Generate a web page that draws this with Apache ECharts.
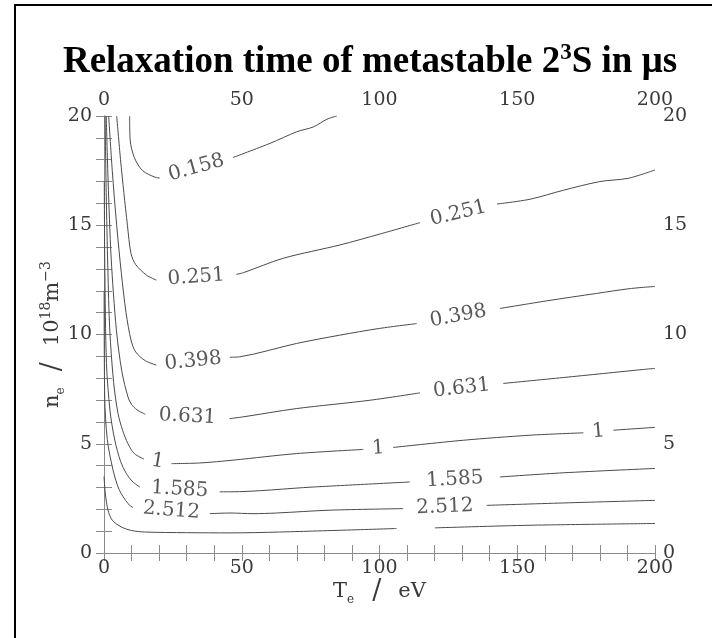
<!DOCTYPE html>
<html>
<head>
<meta charset="utf-8">
<script src="https://cdn.jsdelivr.net/npm/echarts@6/dist/echarts.min.js"></script>
<style>
  html, body { margin: 0; padding: 0; background: #fff; }
  #chart { width: 712px; height: 638px; }
</style>
</head>
<body>
<div id="chart"></div>
<script>
// contour levels (relaxation time in µs); '' = line without a label
const levels = ["0.158", "0.251", "0.398", "0.631", "1", "1.585", "2.512", ""];

// each contour: list of segments [T_e (eV), n_e (1e18 m^-3)]; labels sit in the gaps
const c0158 = [
  [[9.3, 20], [9.5, 18.9], [11, 18.1], [14, 17.5], [18.5, 17.2], [20.2, 17.16]],
  [[46.8, 18.1], [60.3, 18.75], [70, 19.28], [76, 19.5], [80.9, 19.85], [84.5, 20]]
];
const c0251 = [
  [[4.6, 20], [6, 18], [7.2, 16.5], [8.5, 15], [9.8, 13.7], [11.5, 13.2], [15.4, 12.72], [19, 12.49]],
  [[48, 12.75], [50.6, 12.83], [65.1, 13.49], [85.7, 14.1], [100.2, 14.6], [114.7, 15.12]],
  [[142.6, 15.97], [154.6, 16.19], [166.7, 16.6], [180, 17.0], [190.3, 17.15], [200, 17.53]]
];
const c0398 = [
  [[1.7, 20], [3, 17.5], [4.6, 15], [6.3, 12.8], [8, 11], [9.8, 9.75], [11.5, 9.2], [15, 8.8], [19, 8.6]],
  [[45.7, 8.96], [49.3, 8.98], [69.9, 9.59], [85.6, 9.97], [100.1, 10.28], [113.5, 10.5]],
  [[143.7, 11.19], [160.7, 11.54], [178.8, 11.88], [190.9, 12.1], [200, 12.2]]
];
const c0631 = [
  [[0.8, 20], [1.5, 17], [2.6, 13.5], [4.5, 10.2], [6.5, 8.3], [8.7, 7.14], [10, 6.8], [12, 6.55], [15, 6.35]],
  [[45.6, 6.15], [50.5, 6.23], [69.9, 6.61], [96.5, 6.99], [114.7, 7.33]],
  [[144.9, 7.76], [166.7, 8.03], [195.8, 8.4], [200, 8.45]]
];
const c1 = [
  [[0.4, 20], [0.8, 16.5], [1.4, 13], [2.1, 10.2], [3.5, 7.8], [5.1, 6.38], [6.8, 5.6], [8.7, 5.0], [11, 4.55], [14.5, 4.3]],
  [[24.5, 4.09], [34.8, 4.12], [46.9, 4.25], [69.9, 4.55], [94.1, 4.74]],
  [[105, 4.83], [130.4, 5.16], [154.6, 5.39], [174, 5.5]],
  [[184.9, 5.62], [200, 5.75]]
];
const c1585 = [
  [[0.1, 17], [0.3, 13], [0.9, 8.67], [2.2, 6.5], [3.9, 5.17], [6, 4.2], [8.1, 3.64], [10.5, 3.25], [13, 3.02]],
  [[42, 2.8], [45.7, 2.8], [75.9, 3.02], [111, 3.25]],
  [[143.7, 3.48], [166.7, 3.67], [200, 3.87]]
];
const c2512 = [
  [[0.05, 12], [0.25, 7.14], [1.2, 5.2], [3.3, 3.79], [5.5, 2.9], [8.7, 2.26], [10.5, 2.08]],
  [[38.4, 1.8], [45.7, 1.83], [54.1, 1.8], [62.6, 1.83], [82, 1.96], [108.6, 2.03]],
  [[138.9, 2.18], [166.7, 2.29], [200, 2.41]]
];
const c3981 = [
  [[0, 3.5], [0.5, 2.7], [1.45, 1.96], [3, 1.5], [6.3, 1.19], [10, 1.03], [14.8, 0.96], [30, 0.93], [45.7, 0.92], [63.8, 0.96], [106.2, 1.12]],
  [[120.1, 1.15], [154.6, 1.27], [200, 1.35]]
];
const contours = [c0158, c0251, c0398, c0631, c1, c1585, c2512, c3981];

// axis ranges: a tick every xStep / yStep, a number every xLabelEvery / yLabelEvery
const xRange = [0, 200];
const yRange = [0, 20];
const xStep = 10, xLabelEvery = 50;
const yStep = 1, yLabelEvery = 5;

const serif = "DejaVu Serif";
const axisGray = "#8a8a8a";
const textGray = "#3a3a3a";

const chart = echarts.init(document.getElementById("chart"));

// join segments with null so the line breaks where the label goes
const lineData = (segs) => {
  const out = [];
  segs.forEach((s, i) => {
    if (i > 0) out.push(null);
    s.forEach((p) => out.push(p));
  });
  return out;
};

const axisCommon = {
  type: "value",
  axisLine: { show: true, lineStyle: { color: axisGray, width: 1 } },
  axisTick: { show: true, inside: true, length: 8, lineStyle: { color: axisGray } },
  splitLine: { show: false },
  nameMoveOverlap: false,
};
const labelStyle = { fontFamily: serif, fontSize: 19, color: textGray, showMinLabel: true, showMaxLabel: true };

const xAxisOpt = (pos) => ({
  ...axisCommon,
  position: pos,
  min: xRange[0],
  max: xRange[1],
  interval: xStep,
  axisLabel: {
    ...labelStyle,
    margin: 6,
    formatter: (v) => (v % xLabelEvery === 0 ? String(v) : ""),
  },
});
const yAxisOpt = (pos) => ({
  ...axisCommon,
  position: pos,
  min: yRange[0],
  max: yRange[1],
  interval: yStep,
  axisLabel: {
    ...labelStyle,
    margin: pos === "left" ? 12 : 8,
    formatter: (v) => (v % yLabelEvery === 0 ? String(v) : ""),
  },
});

const xAxes = [xAxisOpt("bottom"), xAxisOpt("top")];
xAxes[0].name = "{a|T}{s|e}{sl|/}{a|eV}";
xAxes[0].nameLocation = "middle";
xAxes[0].nameGap = 25;
xAxes[0].nameTextStyle = {
  rich: {
    a: { fontFamily: serif, fontSize: 21, color: textGray, lineHeight: 28, verticalAlign: "middle" },
    s: { fontFamily: serif, fontSize: 12, color: textGray, lineHeight: 11, verticalAlign: "bottom" },
    sl: { fontFamily: serif, fontSize: 27, color: textGray, lineHeight: 28, verticalAlign: "middle", padding: [0, 17, 0, 18] },
  },
};

const yAxes = [yAxisOpt("left"), yAxisOpt("right")];
yAxes[0].name = "{a|n}{s|e}{sl|/}{a|10}{p|18}{a|m}{p|−3}";
yAxes[0].nameLocation = "middle";
yAxes[0].nameGap = 37;
yAxes[0].nameTextStyle = {
  rich: {
    a: { fontFamily: serif, fontSize: 21, color: textGray, lineHeight: 28, verticalAlign: "middle" },
    s: { fontFamily: serif, fontSize: 12, color: textGray, lineHeight: 11, verticalAlign: "bottom" },
    p: { fontFamily: serif, fontSize: 14, color: textGray, lineHeight: 13, verticalAlign: "top" },
    sl: { fontFamily: serif, fontSize: 27, color: textGray, lineHeight: 28, verticalAlign: "middle", padding: [0, 16, 0, 16] },
  },
};

const lineSeries = contours.map((segs, i) => ({
  name: levels[i] || "c" + i,
  type: "line",
  data: lineData(segs),
  showSymbol: false,
  smooth: 0.3,
  connectNulls: false,
  lineStyle: { color: "#4a4a4a", width: 1 },
  silent: true,
  z: 2,
}));

const option = {
  animation: false,
  grid: { left: 104, right: 57, top: 116, bottom: 85, containLabel: false },
  xAxis: xAxes,
  yAxis: yAxes,
  graphic: [
    {
      type: "rect",
      shape: { x: 15, y: 5, width: 720, height: 660 },
      style: { fill: "none", stroke: "#000", lineWidth: 2 },
    },
    {
      type: "text",
      x: 370,
      y: 62,
      style: {
        text: "{t|Relaxation time of metastable 2}{s|3}{t|S in μs}",
        align: "center",
        verticalAlign: "middle",
        rich: {
          t: { fontFamily: "Liberation Serif", fontWeight: "bold", fontSize: 37, fill: "#000", lineHeight: 40, verticalAlign: "middle" },
          s: { fontFamily: "Liberation Serif", fontWeight: "bold", fontSize: 23, fill: "#000", lineHeight: 30, verticalAlign: "top" },
        },
      },
    },
  ],
  series: lineSeries,
};

chart.setOption(option);

// contour labels: centred in each gap, turned along the gap direction
const labelData = [];
contours.forEach((segs, i) => {
  if (!levels[i]) return;
  for (let k = 0; k < segs.length - 1; k++) {
    const a = segs[k][segs[k].length - 1];
    const b = segs[k + 1][0];
    const pa = chart.convertToPixel({ xAxisIndex: 0, yAxisIndex: 0 }, a);
    const pb = chart.convertToPixel({ xAxisIndex: 0, yAxisIndex: 0 }, b);
    const ang = (Math.atan2(pa[1] - pb[1], pb[0] - pa[0]) * 180) / Math.PI;
    labelData.push({
      value: [(a[0] + b[0]) / 2, (a[1] + b[1]) / 2],
      label: { rotate: ang, formatter: levels[i] },
    });
  }
});

chart.setOption({
  series: lineSeries.concat([
    {
      type: "scatter",
      symbolSize: 0,
      data: labelData,
      silent: true,
      z: 3,
      label: {
        show: true,
        position: "inside",
        align: "center",
        verticalAlign: "middle",
        fontFamily: serif,
        fontSize: 20,
        color: "#2e2e2e",
      },
    },
  ]),
});
</script>
</body>
</html>
